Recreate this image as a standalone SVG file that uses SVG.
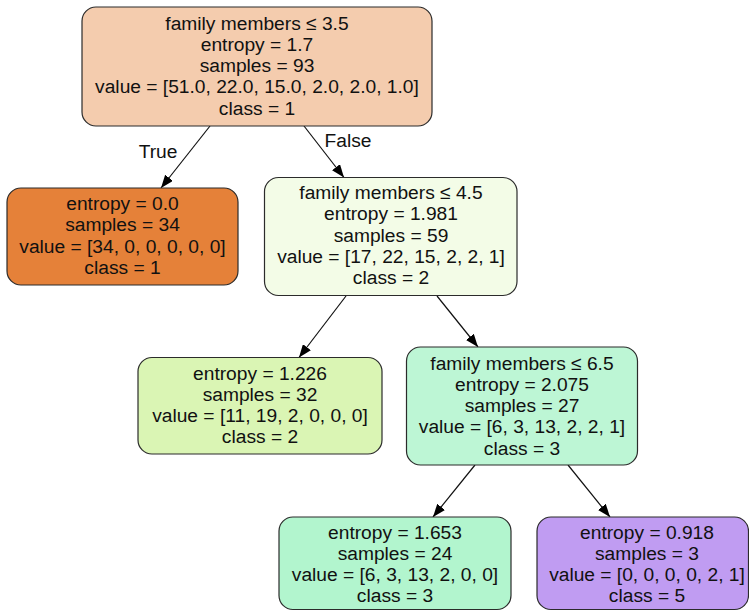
<svg xmlns="http://www.w3.org/2000/svg" width="749" height="611" viewBox="0 0 749 611">
<style>
.box{stroke:#2b2b2b;stroke-width:1.2}
text{font-family:"Liberation Sans",Arial,sans-serif;font-size:19.2px;fill:#111;text-anchor:middle}
.edge{stroke:#111;stroke-width:1.2;fill:none;marker-end:url(#ah)}
</style>
<defs>
<marker id="ah" viewBox="0 0 13 10" refX="13" refY="5" markerWidth="13" markerHeight="10" markerUnits="userSpaceOnUse" orient="auto">
<path d="M0,0 L13,5 L0,10 z" fill="#000"/>
</marker>
</defs>
<rect width="749" height="611" fill="#fff"/>
<g id="connectors">
<line class="edge" x1="210" y1="126" x2="161" y2="188"/>
<line class="edge" x1="304" y1="126" x2="344" y2="177.5"/>
<line class="edge" x1="346" y1="296" x2="299" y2="357.5"/>
<line class="edge" x1="437" y1="296" x2="478" y2="347"/>
<line class="edge" x1="475" y1="465" x2="433" y2="517"/>
<line class="edge" x1="568" y1="465" x2="610" y2="517"/>
<text x="158" y="158">True</text>
<text x="348" y="147">False</text>
</g>
<g id="node0">
<rect class="box" x="82" y="7" width="350" height="119" rx="14" fill="#f4ccae"/>
<text x="257" y="29.5">family members ≤ 3.5</text>
<text x="257" y="50.75">entropy = 1.7</text>
<text x="257" y="72">samples = 93</text>
<text x="257" y="93.25">value = [51.0, 22.0, 15.0, 2.0, 2.0, 1.0]</text>
<text x="257" y="114.5">class = 1</text>
</g>
<g id="node1">
<rect class="box" x="7" y="188" width="231" height="97" rx="14" fill="#e58139"/>
<text x="122.5" y="210">entropy = 0.0</text>
<text x="122.5" y="231.25">samples = 34</text>
<text x="122.5" y="252.5">value = [34, 0, 0, 0, 0, 0]</text>
<text x="122.5" y="273.75">class = 1</text>
</g>
<g id="node2">
<rect class="box" x="264.5" y="177.5" width="252.5" height="118" rx="14" fill="#f3fce7"/>
<text x="391" y="199">family members ≤ 4.5</text>
<text x="391" y="220.25">entropy = 1.981</text>
<text x="391" y="241.5">samples = 59</text>
<text x="391" y="262.75">value = [17, 22, 15, 2, 2, 1]</text>
<text x="391" y="284">class = 2</text>
</g>
<g id="node3">
<rect class="box" x="138" y="357.5" width="244" height="96.5" rx="14" fill="#daf5b4"/>
<text x="260" y="379.5">entropy = 1.226</text>
<text x="260" y="400.75">samples = 32</text>
<text x="260" y="422">value = [11, 19, 2, 0, 0, 0]</text>
<text x="260" y="443.25">class = 2</text>
</g>
<g id="node4">
<rect class="box" x="406.5" y="347" width="231" height="118" rx="14" fill="#bdf6d5"/>
<text x="522" y="369.5">family members ≤ 6.5</text>
<text x="522" y="390.75">entropy = 2.075</text>
<text x="522" y="412">samples = 27</text>
<text x="522" y="433.25">value = [6, 3, 13, 2, 2, 1]</text>
<text x="522" y="454.5">class = 3</text>
</g>
<g id="node5">
<rect class="box" x="279" y="517" width="232" height="92.5" rx="14" fill="#b2f5ce"/>
<text x="395" y="538.5">entropy = 1.653</text>
<text x="395" y="559.75">samples = 24</text>
<text x="395" y="581">value = [6, 3, 13, 2, 0, 0]</text>
<text x="395" y="602.25">class = 3</text>
</g>
<g id="node6">
<rect class="box" x="537" y="517" width="211.5" height="92.5" rx="14" fill="#c09cf2"/>
<text x="647" y="538.5">entropy = 0.918</text>
<text x="647" y="559.75">samples = 3</text>
<text x="647" y="581">value = [0, 0, 0, 0, 2, 1]</text>
<text x="647" y="602.25">class = 5</text>
</g>
</svg>
